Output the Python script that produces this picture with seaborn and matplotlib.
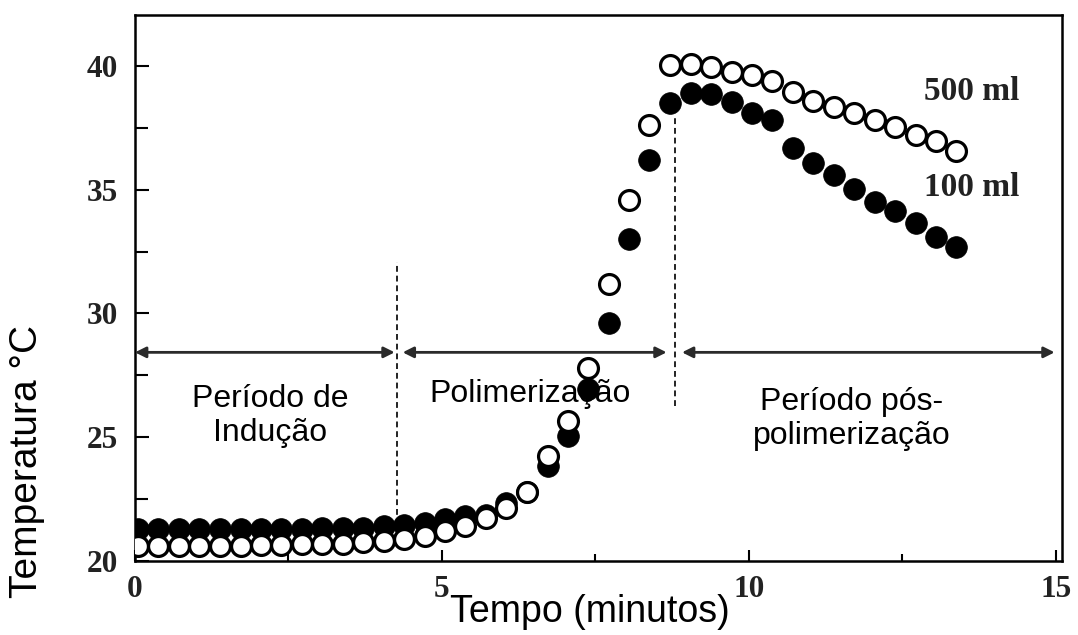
import matplotlib
matplotlib.use("Agg")
import matplotlib.pyplot as plt
import seaborn as sns
import pandas as pd

# ---- data ----
tempo = [0.05, 0.38, 0.72, 1.05, 1.38, 1.72, 2.05, 2.38, 2.72, 3.05,
         3.38, 3.72, 4.05, 4.38, 4.72, 5.05, 5.38, 5.72, 6.05, 6.38,
         6.72, 7.05, 7.38, 7.72, 8.05, 8.38, 8.72, 9.05, 9.38, 9.72,
         10.05, 10.38, 10.72, 11.05, 11.38, 11.72, 12.05, 12.38, 12.72, 13.05,
         13.38]
temp_100ml = [21.3, 21.3, 21.3, 21.3, 21.3, 21.3, 21.3, 21.3, 21.3, 21.35,
              21.35, 21.35, 21.4, 21.45, 21.55, 21.7, 21.8, 21.85, 22.35, 22.8,
              23.85, 25.05, 26.95, 29.6, 33.0, 36.2, 38.5, 38.9, 38.85, 38.55,
              38.1, 37.8, 36.7, 36.1, 35.6, 35.05, 34.5, 34.15, 33.65, 33.1,
              32.7]
temp_500ml = [20.6, 20.6, 20.6, 20.6, 20.6, 20.6, 20.65, 20.65, 20.7, 20.7,
              20.7, 20.75, 20.8, 20.9, 21.0, 21.2, 21.4, 21.75, 22.15, 22.8,
              24.25, 25.65, 27.8, 31.2, 34.6, 37.6, 40.05, 40.1, 39.95, 39.75,
              39.65, 39.4, 38.95, 38.6, 38.35, 38.1, 37.8, 37.55, 37.2, 36.95,
              36.55]
serie_labels = ["500 ml", "100 ml"]
fase_labels = ["Período de\nIndução", "Polimerização", "Período pós-\npolimerização"]
x_ticks = [0, 5, 10, 15]
y_ticks = [20, 25, 30, 35, 40]

df100 = pd.DataFrame({"t": tempo, "T": temp_100ml})
df500 = pd.DataFrame({"t": tempo, "T": temp_500ml})

sns.set_style("ticks")
plt.rcParams["font.family"] = ["Liberation Sans", "DejaVu Sans"]

fig = plt.figure(figsize=(10.78, 6.35), dpi=100)
ax = fig.add_axes([135/1078, 1 - 561/635, (1062-135)/1078, (561-15)/635])

sns.scatterplot(data=df100, x="t", y="T", ax=ax, color="black",
                edgecolor="black", s=245, linewidth=0.5, zorder=3)
sns.scatterplot(data=df500, x="t", y="T", ax=ax, color="white",
                edgecolor="black", s=205, linewidth=2.3, zorder=4)

ax.set_xlim(0, 15.1)
ax.set_ylim(20, 42.06)
ax.set_xticks(x_ticks)
ax.set_yticks(y_ticks)
ax.set_xticks([2.5, 7.5, 12.5], minor=True)
ax.set_yticks([22.5, 27.5, 32.5, 37.5], minor=True)
ax.tick_params(axis="both", which="both", direction="in", width=1.5, color="black")
ax.tick_params(axis="y", which="major", length=10, pad=12)
ax.tick_params(axis="y", which="minor", length=9)
ax.tick_params(axis="x", which="major", length=8, pad=10)
ax.tick_params(axis="x", which="minor", length=5)
for lab in ax.get_xticklabels() + ax.get_yticklabels():
    lab.set_fontfamily("Liberation Serif")
    lab.set_fontweight("bold")
    lab.set_fontsize(22.5)
    lab.set_color("#222222")
for sp in ax.spines.values():
    sp.set_linewidth(1.8)
    sp.set_color("black")

ax.set_xlabel("")
ax.set_ylabel("")
fig.text(590/1078, 1 - 612/635, "Tempo (minutos)", ha="center", va="center",
         fontsize=27, color="black")
fig.text(27/1078, 1 - 462/635, "Temperatura °C", ha="center", va="center",
         rotation=90, fontsize=28, color="black")

# phase arrows
y_arrow = 28.43
segments = [(0.0, 4.23), (4.36, 8.66), (8.91, 14.98)]
for x0, x1 in segments:
    ax.annotate("", xy=(x1, y_arrow), xytext=(x0, y_arrow),
                arrowprops=dict(arrowstyle="<|-|>", color="#2a2a2a", lw=2.0,
                                mutation_scale=16, shrinkA=0, shrinkB=0),
                zorder=2)

# dashed dividers
ax.plot([4.27, 4.27], [20.7, 32.1], color="#222222", lw=1.4,
        linestyle=(0, (3, 2)), zorder=2)
ax.plot([8.8, 8.8], [26.25, 37.9], color="#222222", lw=1.4,
        linestyle=(0, (3, 2)), zorder=2)

# phase labels
ax.text(2.2, 25.85, fase_labels[0], ha="center", va="center", fontsize=23,
        color="black", linespacing=1.15, zorder=5)
ax.text(6.43, 26.73, fase_labels[1], ha="center", va="center", fontsize=23,
        color="black", zorder=5)
ax.text(11.68, 25.73, fase_labels[2], ha="center", va="center", fontsize=23,
        color="black", linespacing=1.15, zorder=5)

# series labels
ax.text(14.41, 38.95, serie_labels[0], ha="right", va="center", fontsize=24,
        family="Liberation Serif", fontweight="bold", color="#222222")
ax.text(14.41, 35.08, serie_labels[1], ha="right", va="center", fontsize=24,
        family="Liberation Serif", fontweight="bold", color="#222222")

fig.savefig("out.png", dpi=100)
